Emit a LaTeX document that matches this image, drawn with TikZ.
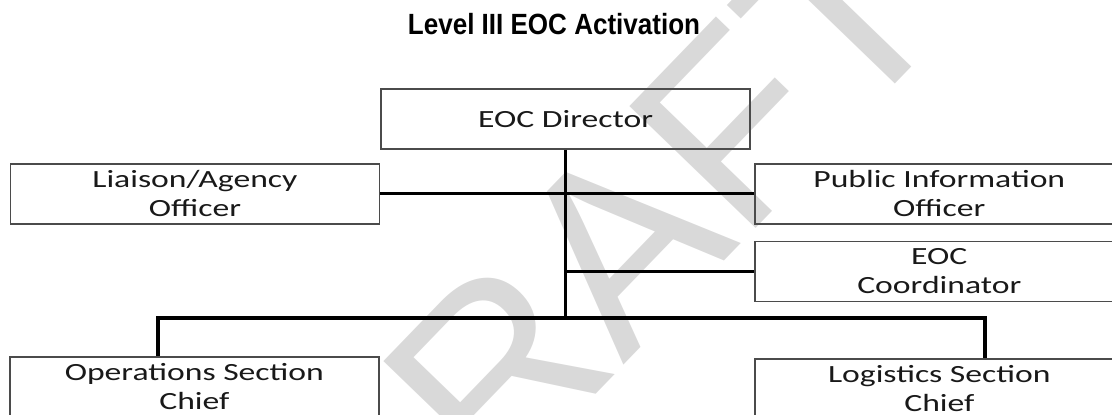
\documentclass[tikz,border=0pt]{standalone}
\usepackage{fontspec}
\setmainfont{Carlito}
\newfontfamily\headfont{Liberation Sans}[FakeStretch=0.89]
\newfontfamily\postfont{Carlito}[FakeStretch=1.36]
\newfontfamily\markfont{Liberation Sans}
\usetikzlibrary{positioning}
\definecolor{boxgray}{RGB}{75,75,75}
\definecolor{markgray}{RGB}{217,217,217}

\begin{document}
\begin{tikzpicture}[
    post/.style={
      draw=boxgray, line width=1.2pt, minimum width=9.225cm,
      minimum height=1.5cm, align=center, inner sep=0pt,
      font=\postfont\fontsize{17.6}{20.6}\selectfont, text=black!90
    },
    link/.style={line width=2.4pt, draw=black},
]
    \useasboundingbox (0,0) rectangle (27.8,-10.35);
    \clip (0,0) rectangle (27.8,-10.35);

    % Watermark
    \node[anchor=base west, rotate=46, inner sep=0pt, text=markgray,
          font=\markfont\fontsize{181.4}{181.4}\selectfont] (draft)
      at (9.175,-15.775) {DRAFT};

    \node[anchor=base, font=\headfont\bfseries\fontsize{20.8}{25}\selectfont]
      (title) at (13.85,-0.85) {Level III EOC Activation};

    \node[post] (director) at (14.14,-2.975) {EOC Director};
    \node[post, below left=0.325cm and 0cm of director.south west] (liaison)
      {Liaison/Agency\\Officer};
    \node[post, below right=0.325cm and 0.075cm of director.south east] (pio)
      {Public Information\\Officer};
    \node[post, below=0.4cm of pio] (coord) {EOC\\Coordinator};

    \node[post, anchor=north west] (ops) at (0.225,-8.9)
      {Operations Section\\Chief};
    \node[post, anchor=north west] (logi) at (18.85,-8.95)
      {Logistics Section\\Chief};

    % Lines
    \coordinate (bar) at (0,-7.95);
    \draw[link] (director.south) -- (director.south |- bar);
    \draw[link] (liaison.east) -- (pio.west);
    \draw[link] (coord.west) -- (coord.west -| director.south);
    \draw[link] ([xshift=-0.91cm]ops.north) |- (director.south |- bar)
      -| ([xshift=1.14cm]logi.north);
\end{tikzpicture}
\end{document}
